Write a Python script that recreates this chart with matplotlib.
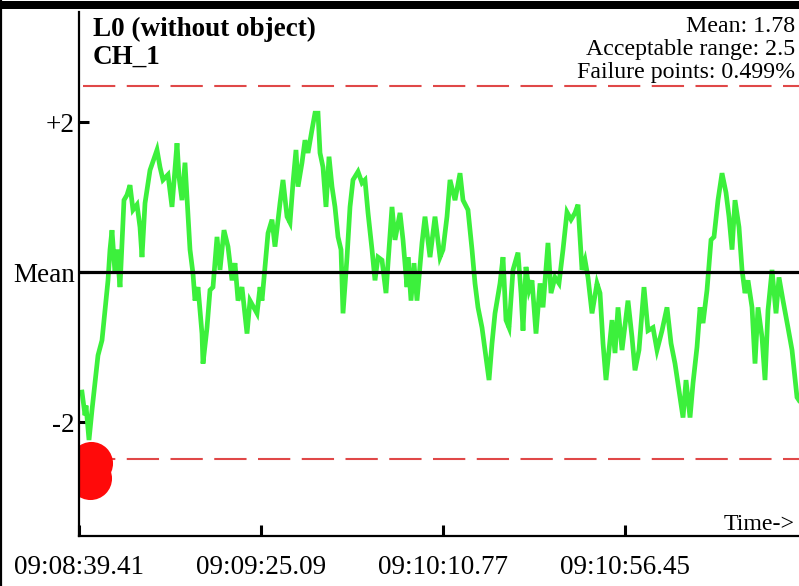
import matplotlib
matplotlib.use("Agg")
import matplotlib.pyplot as plt
from matplotlib.patches import Rectangle
from matplotlib.lines import Line2D

# ---- data ----
t_sec = [0.75, 1.51, 1.76, 2.51, 3.26, 4.77, 5.77, 6.53, 7.28, 7.78, 8.28, 9.04, 9.54, 10.29,
         11.29, 12.05, 12.80, 13.55, 14.56, 15.31, 15.81, 16.57, 17.82, 19.58, 20.33, 21.08,
         22.34, 23.34, 24.60, 25.10, 25.85, 26.60, 27.86, 28.61, 29.11, 29.87, 30.87, 31.12,
         32.13, 32.88, 33.63, 34.64, 35.39, 36.39, 37.40, 38.40, 39.15, 39.91, 40.91, 42.17,
         42.92, 44.68, 45.43, 45.93, 46.68, 47.44, 48.44, 49.19, 50.45, 51.20, 52.21, 52.96,
         53.71, 54.46, 54.97, 55.97, 56.72, 57.48, 58.48, 59.23, 59.99, 60.49, 61.24, 61.99,
         62.75, 63.50, 64.25, 65.01, 65.76, 66.26, 67.27, 68.02, 68.77, 70.03, 71.03, 71.78,
         72.54, 73.54, 74.29, 75.05, 76.05, 77.05, 77.56, 78.56, 79.31, 80.57, 81.32, 82.32,
         82.58, 83.33, 84.08, 84.83, 86.09, 86.84, 88.10, 89.35, 90.61, 91.36, 92.36, 93.12,
         94.37, 95.63, 96.38, 97.63, 98.64, 99.39, 100.14, 101.15, 101.90, 102.91, 103.66,
         104.41, 105.67, 106.42, 107.17, 107.93, 108.93, 110.18, 110.94, 111.44, 112.19,
         112.95, 113.70, 114.70, 115.71, 116.46, 117.71, 118.47, 119.47, 120.47, 121.48,
         122.48, 123.49, 124.49, 125.24, 126.25, 127.00, 127.75, 128.76, 130.01, 130.77,
         131.52, 132.27, 133.02, 133.78, 134.53, 135.28, 136.29, 137.79, 138.80, 139.55,
         140.55, 141.81, 142.81, 144.07, 145.07, 146.33, 147.58, 148.59, 149.59, 150.59,
         151.60, 152.35, 153.36, 154.11, 155.11, 155.87, 156.62, 157.62, 158.63, 159.38,
         160.38, 161.39, 162.39, 163.14, 163.90, 164.65, 165.65, 166.41, 167.16, 167.91,
         168.92, 169.67, 170.42, 171.43, 172.18, 172.93, 173.94, 174.94, 175.69, 176.70,
         177.95, 178.96, 180.21, 180.71]
deviation = [-1.60, -1.91, -1.78, -2.24, -1.84, -1.11, -0.91, -0.51, -0.11, 0.30, 0.56, -0.02,
             0.30, -0.20, 0.96, 1.03, 1.16, 0.83, 0.90, 0.60, 0.20, 0.92, 1.36, 1.63, 1.40,
             1.23, 1.30, 0.87, 1.72, 1.27, 0.96, 1.46, 0.30, -0.02, -0.38, -0.20, -0.82, -1.22,
             -0.74, -0.24, -0.20, 0.47, 0.03, 0.56, 0.34, -0.11, 0.12, -0.38, -0.20, -0.82,
             -0.38, -0.55, -0.20, -0.38, 0.07, 0.52, 0.70, 0.34, 0.92, 1.23, 0.74, 0.66, 1.19,
             1.63, 1.14, 1.46, 1.76, 1.59, 1.90, 2.12, 2.12, 1.59, 1.40, 0.87, 1.54, 1.14, 0.87,
             0.47, 0.30, -0.55, 0.20, 0.87, 1.23, 1.34, 1.19, 1.23, 0.79, 0.30, -0.11, 0.20,
             0.16, -0.28, 0.12, 0.87, 0.43, 0.79, 0.43, -0.20, 0.20, -0.38, 0.12, -0.38, 0.39,
             0.74, 0.20, 0.74, 0.20, 0.30, 0.74, 1.23, 0.96, 1.32, 0.96, 0.83, 0.30, -0.15,
             -0.47, -0.74, -1.04, -1.44, -0.95, -0.55, -0.15, 0.20, -0.64, -0.74, 0.03, 0.26,
             -0.28, -0.78, 0.07, -0.24, -0.11, -0.82, -0.15, -0.47, 0.39, -0.28, -0.07, -0.15,
             0.30, 0.80, 0.70, 0.79, 0.90, 0.03, 0.16, -0.07, -0.55, -0.15, -0.28, -0.95, -1.44,
             -1.04, -0.64, -1.08, -0.47, -1.04, -0.38, -0.87, -1.31, -1.04, -0.20, -0.78, -0.74,
             -1.04, -0.78, -0.47, -0.95, -1.22, -1.58, -1.94, -1.44, -1.94, -1.48, -1.00, -0.47,
             -0.68, -0.24, 0.43, 0.47, 0.96, 1.32, 1.06, 0.74, 0.30, 0.96, 0.60, 0.03, -0.28,
             -0.11, -0.47, -1.22, -0.47, -0.87, -1.44, -0.51, 0.03, -0.55, -0.07, -0.38, -0.74,
             -1.04, -1.67, -1.71]

fail_t = [3.01, 2.76]
fail_v = [-2.55, -2.74]

upper_limit = 2.48
lower_limit = -2.49

x_ticks = [0.0, 45.68, 91.36, 137.04]
x_tick_labels = ["09:08:39.41", "09:09:25.09", "09:10:10.77", "09:10:56.45"]
y_ticks = [2, 0, -2]
y_tick_labels = ["+2", "Mean", "-2"]

title_lines = ["L0 (without object)", "CH_1"]
stats_lines = ["Mean: 1.78", "Acceptable range: 2.5", "Failure points: 0.499%"]

# ---- figure ----
plt.rcParams['font.family'] = ['Liberation Serif', 'DejaVu Serif']
W, H = 799, 586
fig = plt.figure(figsize=(W / 100, H / 100), dpi=100)
ax = fig.add_axes([79 / W, 50 / H, 1 - 79 / W, (536 - 12) / H])

ax.set_xlim(0, 180.71)
ax.set_ylim(-3.52, 3.47)

ax.plot(t_sec, deviation, color='#3cf03c', lw=3.4, solid_joinstyle='miter', zorder=2)
ax.axhline(0, color='black', lw=2.3, zorder=2.1)
ax.hlines([upper_limit, lower_limit], 1.0, 180.71, colors='#e04848', lw=1.5,
          linestyles=(0, (15.5, 5.5)), zorder=1.9)
ax.plot(fail_t, fail_v, 'o', color='#ff0a0a', ms=31, mec='none', zorder=2.2)

for side in ['top', 'right']:
    ax.spines[side].set_visible(False)
for side in ['left', 'bottom']:
    ax.spines[side].set_linewidth(1.6)
    ax.spines[side].set_zorder(3)

ax.set_xticks(x_ticks)
ax.set_xticklabels(x_tick_labels, fontsize=19.5)
ax.set_yticks(y_ticks)
ax.set_yticklabels(y_tick_labels, fontsize=19.5)
ax.tick_params(axis='x', direction='in', length=8, width=2.2, pad=14)
ax.tick_params(axis='y', direction='in', length=7, width=2.2, pad=3)

# text
fig.text(93 / W, (H - 36) / H, title_lines[0], fontsize=19.5, fontweight='bold',
         ha='left', va='baseline')
fig.text(93 / W, (H - 64) / H, title_lines[1], fontsize=19.5, fontweight='bold',
         ha='left', va='baseline')
for i, s in enumerate(stats_lines):
    fig.text(795 / W, (H - (32 + 23 * i)) / H, s, fontsize=17.2, ha='right', va='baseline')
fig.text(795 / W, (H - 530) / H, "Time->", fontsize=17.2, ha='right', va='baseline')

# frame decorations
fig.add_artist(Rectangle((0, (H - 9) / H), 1, 8 / H, transform=fig.transFigure,
                         color='black', lw=0))
fig.add_artist(Line2D([1 / W, 1 / W], [0, 1], transform=fig.transFigure,
                      color='black', lw=1.6))

fig.savefig("out.png", dpi=100)
